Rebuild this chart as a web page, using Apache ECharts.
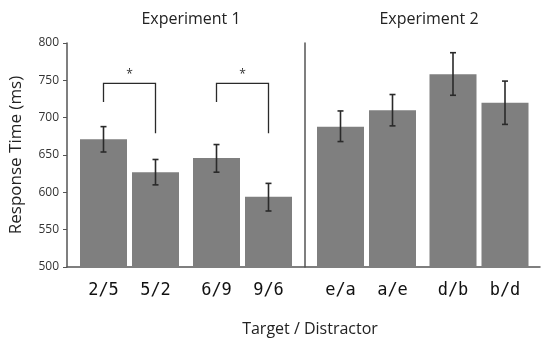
<!DOCTYPE html>
<html><head><meta charset="utf-8">
<script src="https://cdn.jsdelivr.net/npm/echarts@6/dist/echarts.min.js"></script>
<style>html,body{margin:0;padding:0;background:#fff}#c{width:550px;height:342px}</style>
</head><body><div id="c"></div>
<script>
// Data
const categories = ['2/5','5/2','6/9','9/6','e/a','a/e','d/b','b/d'];
const means      = [671, 627, 646, 594, 688, 710, 758, 720];
const errLow     = [654, 610, 627, 575, 668, 689, 730, 691];
const errHigh    = [688, 644, 664, 612, 709, 731, 787, 749];
const yTicks     = [500, 550, 600, 650, 700, 750, 800];
const experiments = ['Experiment 1', 'Experiment 2'];
// significance brackets (Experiment 1): pair index, top value, left end value, right end value
const sigPairs   = [0, 1];
const sigTop     = [746, 746];
const sigLeftEnd = [721, 721];
const sigRightEnd= [679, 679];

const BAR_W = 47, BAR_GAP = 5, OFF = (BAR_W + BAR_GAP) / 2;
const FONT = '"Open Sans", "Noto Sans", sans-serif';
const yMin = yTicks[0], yMax = yTicks[yTicks.length - 1], yStep = yTicks[1] - yTicks[0];

function pairData(arr, g, k) { return [0, 1].map(p => arr[g * 4 + p * 2 + k]); }

function renderErr(params, api) {
  const c = api.value(0), lo = api.value(1), hi = api.value(2), s = api.value(3);
  const pLo = api.coord([c, lo]), pHi = api.coord([c, hi]);
  const x = pLo[0] + s * OFF;
  const st = { stroke: '#2a2a2a', lineWidth: 1.6 };
  return { type: 'group', children: [
    { type: 'line', shape: { x1: x, y1: pLo[1], x2: x, y2: pHi[1] }, style: st },
    { type: 'line', shape: { x1: x - 3, y1: pLo[1], x2: x + 3, y2: pLo[1] }, style: st },
    { type: 'line', shape: { x1: x - 3, y1: pHi[1], x2: x + 3, y2: pHi[1] }, style: st }
  ]};
}
function renderSig(params, api) {
  const c = api.value(0);
  const pT = api.coord([c, api.value(1)]);
  const yL = api.coord([c, api.value(2)])[1], yR = api.coord([c, api.value(3)])[1];
  const xL = pT[0] - OFF, xR = pT[0] + OFF;
  return { type: 'group', children: [
    { type: 'polyline', shape: { points: [[xL, yL], [xL, pT[1]], [xR, pT[1]], [xR, yR]] },
      style: { stroke: '#2a2a2a', lineWidth: 1.3, fill: null } },
    { type: 'text', style: { text: '*', x: pT[0], y: pT[1] - 3, textAlign: 'center', textVerticalAlign: 'bottom',
      font: '12px ' + FONT, fill: '#333' } }
  ]};
}

const grids = [
  { left: 66, width: 474, top: 43, height: 224 },
  { left: 73, width: 226, top: 43, height: 224 },
  { left: 310.25, width: 225, top: 43, height: 224 }
];
const xAxes = [
  { gridIndex: 0, type: 'value', min: 0, max: 1, axisLine: { lineStyle: { color: '#555', width: 1.5 } },
    axisTick: { show: false }, axisLabel: { show: false }, splitLine: { show: false } }
];
const yAxes = [
  { gridIndex: 0, type: 'value', min: yMin, max: yMax, interval: yStep,
    axisLine: { show: true, lineStyle: { color: '#555', width: 1.5 } },
    axisTick: { show: true, inside: false, length: 4, lineStyle: { color: '#555' } },
    axisLabel: { color: '#333', fontSize: 12, fontFamily: FONT, margin: 8 },
    splitLine: { show: false },
    name: 'Response Time (ms)', nameLocation: 'middle', nameGap: 42, nameRotate: 90,
    nameTextStyle: { fontSize: 17, fontFamily: FONT, color: '#222' } }
];
[1, 2].forEach(g => {
  const gi = g - 1;
  xAxes.push({ gridIndex: g, type: 'category', data: ['0', '1'],
    axisLine: { show: false }, axisTick: { show: false },
    axisLabel: { margin: 15, interval: 0,
      formatter: (v, i) => `{a|${categories[gi * 4 + i * 2]}}{b|${categories[gi * 4 + i * 2 + 1]}}`,
      rich: {
        a: { width: 52, align: 'center', fontSize: 17, fontFamily: '"DejaVu Sans Mono", monospace', color: '#111' },
        b: { width: 52, align: 'center', fontSize: 17, fontFamily: '"DejaVu Sans Mono", monospace', color: '#111' }
      } } });
  yAxes.push({ gridIndex: g, type: 'value', min: yMin, max: yMax, interval: yStep,
    axisLine: { show: g === 2, lineStyle: { color: '#555', width: 1.5 } }, offset: g === 2 ? 5.75 : 0,
    axisTick: { show: false }, axisLabel: { show: false }, splitLine: { show: false } });
});

const series = [];
[1, 2].forEach(g => {
  const gi = g - 1;
  [0, 1].forEach(k => {
    series.push({ type: 'bar', xAxisIndex: g, yAxisIndex: g, barWidth: BAR_W, barGap: (BAR_GAP / BAR_W * 100) + '%',
      itemStyle: { color: '#7f7f7f' }, data: pairData(means, gi, k) });
  });
  const errData = [];
  [0, 1].forEach(k => [0, 1].forEach(p => {
    const i = gi * 4 + p * 2 + k;
    errData.push([p, errLow[i], errHigh[i], k === 0 ? -1 : 1]);
  }));
  series.push({ type: 'custom', xAxisIndex: g, yAxisIndex: g, renderItem: renderErr, z: 5,
    encode: { x: 0, y: [1, 2] }, data: errData, silent: true });
});
series.push({ type: 'custom', xAxisIndex: 1, yAxisIndex: 1, renderItem: renderSig, z: 5, silent: true,
  encode: { x: 0, y: [1, 2, 3] },
  data: sigPairs.map((p, i) => [p, sigTop[i], sigLeftEnd[i], sigRightEnd[i]]) });

const titleStyle = { fontSize: 16, fontWeight: 'normal', fontFamily: FONT, color: '#222' };
const chart = echarts.init(document.getElementById('c'), null, { renderer: 'canvas' });
chart.setOption({
  animation: false,
  backgroundColor: '#fff',
  title: [
    { text: experiments[0], left: 186, top: 6, textAlign: 'center', textStyle: titleStyle },
    { text: experiments[1], left: 424, top: 6, textAlign: 'center', textStyle: titleStyle },
    { text: 'Target / Distractor', left: 305, top: 316, textAlign: 'center', textStyle: titleStyle }
  ],
  grid: grids, xAxis: xAxes, yAxis: yAxes, series: series
});
</script></body></html>
